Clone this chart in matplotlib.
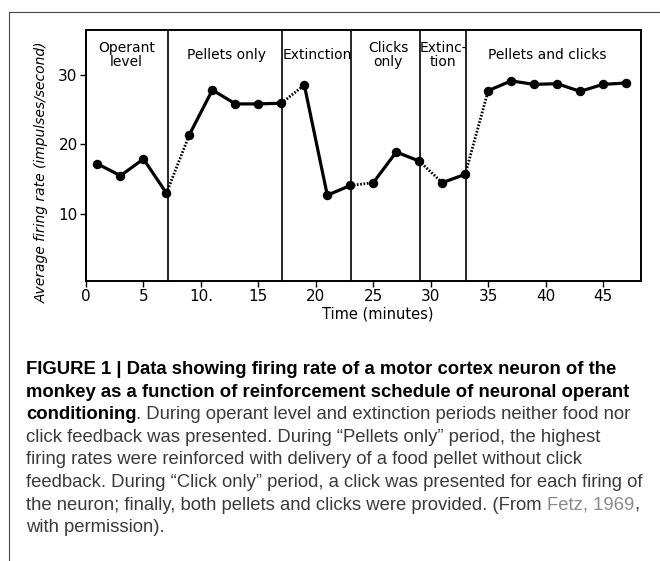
import numpy as np
import matplotlib
matplotlib.use('Agg')
import matplotlib.pyplot as plt
from matplotlib.lines import Line2D

# firing rate, one point every 2 minutes
minutes = [1, 3, 5, 7, 9, 11, 13, 15, 17, 19, 21, 23,
           25, 27, 29, 31, 33, 35, 37, 39, 41, 43, 45, 47]
rate = [17.2, 15.5, 17.9, 13.0, 21.4, 27.8, 25.8, 25.8, 25.9, 28.5, 12.7, 14.1,
        14.5, 18.9, 17.6, 14.5, 15.7, 27.7, 29.1, 28.6, 28.7, 27.6, 28.6, 28.8]

# schedule changes (minutes) and the label of each period
phase_edges = [7.1, 17.1, 23.1, 29.1, 33.1]
phase_names = ['Operant\nlevel', 'Pellets only', 'Extinction', 'Clicks\nonly',
               'Extinc-\ntion', 'Pellets and clicks']
phase_centers = [3.5, 12.2, 20.15, 26.3, 31.1, 40.1]

xtick_vals = [0, 5, 10, 15, 20, 25, 30, 35, 40, 45]
xtick_text = ['0', '5', '10.', '15', '20', '25', '30', '35', '40', '45']
ytick_vals = [10, 20, 30]

fig = plt.figure(figsize=(6.6, 5.61), dpi=100)
ax = fig.add_axes([86 / 660, 1 - 281 / 561, 555 / 660, 251 / 561])

x = np.array(minutes)
y = np.array(rate)
phase = np.digitize(x, phase_edges)

# solid line inside each period, dotted between periods
for p in range(len(phase_names)):
    m = phase == p
    ax.plot(x[m], y[m], color='black', lw=2.3, marker='o', ms=5.8, zorder=3)
    if p + 1 < len(phase_names):
        i = np.where(m)[0][-1]
        ax.plot(x[i:i + 2], y[i:i + 2], color='black', lw=2.0,
                linestyle=(0, (0.6, 0.6)), zorder=2)

for e in phase_edges:
    ax.axvline(e, color='black', lw=1.2)

for name, cx in zip(phase_names, phase_centers):
    ax.text(cx, 32.8, name, ha='center', va='center', fontsize=10,
            linespacing=1.0)

ax.set_xlim(0, 48.3)
ax.set_ylim(0.4, 36.4)
ax.set_xticks(xtick_vals)
ax.set_xticklabels(xtick_text)
ax.set_yticks(ytick_vals)
ax.tick_params(direction='out', length=4, width=1, labelsize=11, pad=2)
for s in ax.spines.values():
    s.set_linewidth(1.4)

ax.set_xlabel('Time (minutes)', fontsize=10.5, labelpad=0)
ax.xaxis.set_label_coords(0.526, -0.1)
fig.text(42 / 660, 1 - 172 / 561, 'Average firing rate (impulses/second)',
         rotation=90, ha='center', va='center', fontsize=10, style='italic')

# thin frame round the figure panel
fig.add_artist(Line2D([9 / 660, 9 / 660, 1], [0, 1 - 12 / 561, 1 - 12 / 561],
                      transform=fig.transFigure, color='#444444', lw=0.8))

# caption, one list of (text, weight, colour) pieces per line
cap_font = 'Liberation Sans'
cap_size = 13.3
dark = '#3a3a3a'
link = '#8a8a8a'
x0 = 26 / 660
baselines = [374, 397, 419, 442, 464, 487, 510, 532]

caption = [
    [('FIGURE 1 | Data showing firing rate of a motor cortex neuron of the', 'bold', 'black')],
    [('monkey as a function of reinforcement schedule of neuronal operant', 'bold', 'black')],
    [('conditioning', 'bold', 'black'),
     ('. During operant level and extinction periods neither food nor', 'normal', dark)],
    [('click feedback was presented. During \u201cPellets only\u201d period, the highest', 'normal', dark)],
    [('firing rates were reinforced with delivery of a food pellet without click', 'normal', dark)],
    [('feedback. During \u201cClick only\u201d period, a click was presented for each firing of', 'normal', dark)],
    [('the neuron; finally, both pellets and clicks were provided. (From ', 'normal', dark),
     ('Fetz, 1969', 'normal', link),
     (',', 'normal', dark)],
    [('with permission).', 'normal', dark)],
]

for row, parts in enumerate(caption):
    yb = 1 - baselines[row] / 561
    txt, weight, col = parts[0]
    anchor = fig.text(x0, yb, txt, ha='left', va='baseline', fontsize=cap_size,
                      fontweight=weight, color=col, family=cap_font)
    # the other pieces go right after the previous one
    for txt, weight, col in parts[1:]:
        anchor = ax.annotate(txt, xy=(1, yb), xycoords=(anchor, 'figure fraction'),
                             ha='left', va='baseline', fontsize=cap_size,
                             fontweight=weight, color=col, family=cap_font,
                             annotation_clip=False)

plt.savefig('out.png', dpi=100)
